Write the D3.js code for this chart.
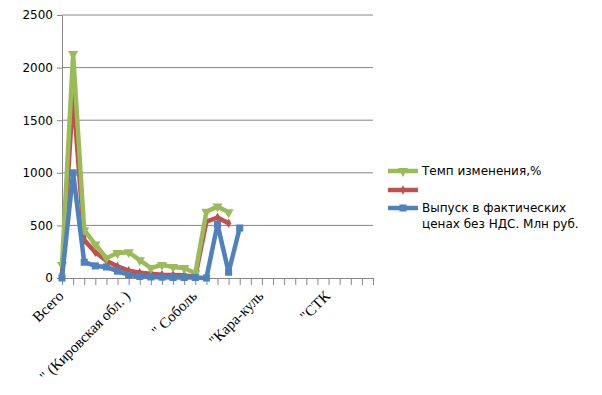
<!DOCTYPE html>
<html>
<head>
<meta charset="utf-8">
<script src="https://cdn.jsdelivr.net/npm/d3@7"></script>
<style>
  body { margin: 0; background: #fff; }
</style>
</head>
<body>
<div id="container"></div>
<script>
let w = 602;
let h = 395;

// 29 categories, only every 6th label is shown on the chart
let categories = [
  "Всего", "", "", "", "", "",
  "\" (Кировская обл. )", "", "", "", "", "",
  "\" Соболь", "", "", "", "", "",
  "\"Кара-куль", "", "", "", "", "",
  "\"СТК", "", "", "", ""
];

let yTicks = [0, 500, 1000, 1500, 2000, 2500];

let tempValues = [125, 2130, 455, 320, 190, 237, 245, 170, 95, 125, 105, 95, 45, 630, 680, 625];
let redValues = [40, 1750, 360, 245, 165, 110, 70, 50, 40, 30, 28, 25, 12, 535, 575, 520];
let outputValues = [0, 1000, 150, 115, 105, 65, 30, 15, 10, 8, 5, 5, 5, 0, 510, 55, 475];

let seriesNames = ["Темп изменения,%", "", "Выпуск в фактических\nценах без НДС. Млн руб."];

let plotLeft = 62, plotRight = 373, plotTop = 15, plotBottom = 278;

let viz = d3.select("#container")
  .append("svg")
    .attr("width", w)
    .attr("height", h)
    .style("background-color", "#fff")
    .style("font-family", "'DejaVu Sans', sans-serif")
;

let x = d3.scalePoint().domain(d3.range(categories.length)).range([plotLeft, plotRight]);
let y = d3.scaleLinear().domain([0, 2500]).range([plotBottom, plotTop]);

// gridlines
viz.selectAll(".grid").data(yTicks.slice(1)).enter()
  .append("line")
    .attr("x1", plotLeft)
    .attr("x2", plotRight)
    .attr("y1", d => y(d))
    .attr("y2", d => y(d))
    .attr("stroke", "#868686")
    .attr("stroke-width", 1)
;

// y axis
let yAxis = viz.append("g")
    .attr("transform", "translate(" + plotLeft + ",0)")
    .call(d3.axisLeft(y).tickValues(yTicks).tickFormat(d3.format("d"))
      .tickSize(5).tickSizeOuter(0).tickPadding(4));
yAxis.selectAll("line, path").attr("stroke", "#868686");
yAxis.selectAll("text").attr("font-size", 12).attr("fill", "#000").attr("font-family", "'DejaVu Sans', sans-serif");

// x axis
let xAxis = viz.append("g")
    .attr("transform", "translate(0," + plotBottom + ")")
    .call(d3.axisBottom(x).tickSize(7).tickSizeOuter(0)
      .tickFormat(i => i % 6 === 0 ? categories[i] : ""));
xAxis.select(".domain").attr("stroke", "#868686");
xAxis.selectAll("line").attr("stroke", "#868686");
xAxis.selectAll("text")
    .attr("font-size", 15)
    .attr("font-family", "'Liberation Serif', serif")
    .attr("fill", "#000")
    .attr("text-anchor", "end")
    .attr("dy", 0)
    .attr("y", 0)
    .attr("transform", "translate(2,19) rotate(-45)")
;

let colors = ["#9BBB59", "#C0504D", "#4F81BD"];
let allValues = [tempValues, redValues, outputValues];

let line = d3.line().x((d, i) => x(i)).y(d => y(d));

let triangle = d3.symbol().type(d3.symbolTriangle).size(45);
let diamond = d3.symbol().type(d3.symbolDiamond).size(26);
let square = d3.symbol().type(d3.symbolSquare).size(50);
let markers = [triangle, diamond, square];
let rotations = [180, 0, 0];

// draw order: red, green, blue
[1, 0, 2].forEach(s => {
  let g = viz.append("g").attr("class", "series");
  g.append("path")
      .attr("d", line(allValues[s]))
      .attr("fill", "none")
      .attr("stroke", colors[s])
      .attr("stroke-width", 4.5)
      .attr("stroke-linejoin", "round")
  ;
  g.selectAll(".marker").data(allValues[s]).enter()
    .append("path")
      .attr("d", markers[s])
      .attr("fill", colors[s])
      .attr("transform", (d, i) => "translate(" + x(i) + "," + y(d) + ") rotate(" + rotations[s] + ")")
  ;
});

// legend
let legendY = [171, 190, 208];
seriesNames.forEach((name, s) => {
  let g = viz.append("g").attr("transform", "translate(388," + legendY[s] + ")");
  g.append("line")
      .attr("x1", 0).attr("x2", 30)
      .attr("stroke", colors[s])
      .attr("stroke-width", 4.5);
  g.append("path")
      .attr("d", markers[s])
      .attr("fill", colors[s])
      .attr("transform", "translate(15,0) rotate(" + rotations[s] + ")");
  let t = g.append("text")
      .attr("x", 34)
      .attr("y", 4)
      .attr("font-size", 12)
      .attr("fill", "#000");
  name.split("\n").forEach((part, k) => {
    t.append("tspan").attr("x", 34).attr("dy", k === 0 ? 0 : 16).text(part);
  });
});
</script>
</body>
</html>
